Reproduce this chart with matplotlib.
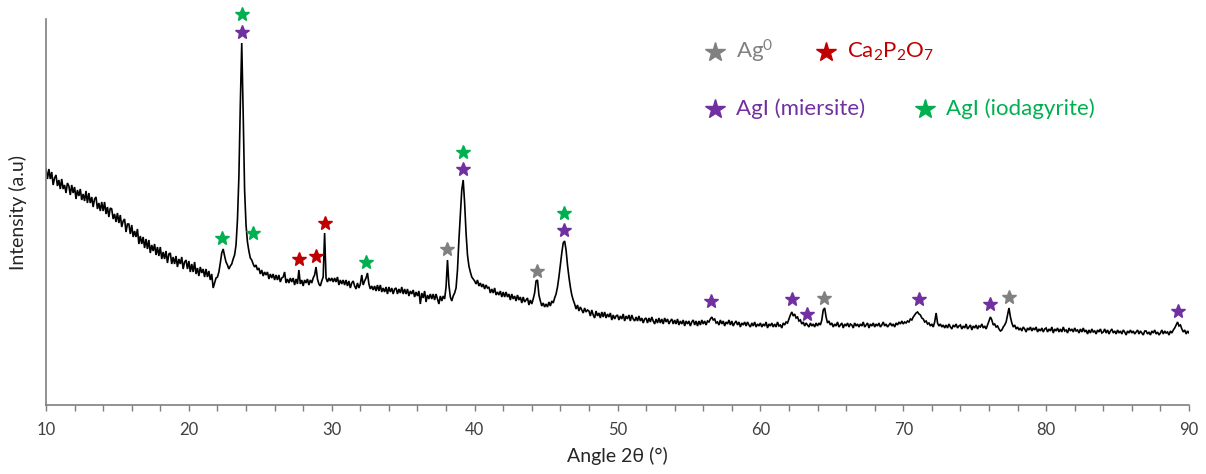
#!/usr/bin/env python3
"""XRD pattern of the AgI / Ag0 / Ca2P2O7 sample with phase markers."""

import matplotlib
matplotlib.use("Agg")
import matplotlib.pyplot as plt
import numpy as np
from matplotlib.ticker import MultipleLocator

plt.rcParams["font.family"] = ["Lato", "DejaVu Sans"]
plt.rcParams["mathtext.default"] = "regular"

# Scan: 10-90 deg, 0.1 deg step; intensity in arbitrary units (one row per degree)
scan_start = 10.0
scan_step = 0.1
intensity = [
    236, 226, 236, 226, 233, 220, 227, 230, 219, 225,  # 10
    216, 226, 216, 220, 212, 222, 219, 210, 220, 212,  # 11
    218, 206, 215, 209, 216, 205, 211, 204, 214, 202,  # 12
    212, 202, 208, 198, 206, 208, 196, 202, 194, 203,  # 13
    194, 203, 191, 198, 188, 197, 196, 186, 191, 183,  # 14
    192, 182, 190, 178, 184, 186, 173, 181, 181, 171,  # 15
    180, 168, 174, 168, 176, 161, 169, 161, 168, 157,  # 16
    166, 156, 165, 152, 160, 154, 161, 150, 158, 149,  # 17
    158, 146, 153, 146, 154, 142, 151, 152, 141, 148,  # 18
    141, 149, 138, 146, 141, 148, 136, 143, 145, 136,  # 19
    144, 133, 141, 133, 143, 131, 137, 129, 138, 132,  # 20
    136, 128, 136, 128, 134, 125, 131, 117, 122, 127,  # 21
    128, 133, 142, 152, 156, 149, 143, 140, 136, 139,  # 22
    141, 146, 150, 160, 185, 228, 300, 362, 292, 215,  # 23
    180, 163, 154, 147, 145, 141, 138, 140, 135, 137,  # 24
    131, 135, 129, 133, 130, 133, 126, 131, 127, 131,  # 25
    125, 130, 125, 130, 123, 127, 128, 133, 122, 126,  # 26
    122, 127, 123, 127, 120, 126, 121, 135, 121, 125,  # 27
    119, 125, 122, 126, 120, 125, 122, 127, 130, 138,  # 28
    126, 121, 119, 124, 128, 172, 127, 123, 127, 124,  # 29
    127, 123, 127, 123, 128, 120, 125, 121, 125, 120,  # 30
    125, 119, 124, 117, 122, 124, 119, 116, 122, 117,  # 31
    121, 130, 120, 124, 127, 132, 121, 116, 119, 115,  # 32
    119, 114, 120, 114, 120, 113, 117, 113, 118, 111,  # 33
    118, 113, 117, 111, 116, 117, 111, 116, 112, 118,  # 34
    111, 116, 111, 116, 109, 114, 111, 115, 108, 113,  # 35
    109, 114, 101, 112, 107, 114, 103, 110, 106, 111,  # 36
    106, 111, 105, 111, 106, 101, 109, 104, 109, 106,  # 37
    118, 145, 120, 108, 104, 109, 112, 117, 135, 165,  # 38
    190, 215, 225, 202, 172, 150, 139, 133, 128, 126,  # 39
    124, 121, 125, 119, 122, 118, 121, 116, 120, 117,  # 40
    118, 112, 116, 112, 117, 110, 113, 110, 114, 108,  # 41
    113, 108, 113, 108, 111, 105, 111, 106, 109, 104,  # 42
    110, 105, 108, 102, 108, 103, 105, 107, 100, 105,  # 43
    101, 106, 112, 124, 125, 110, 104, 99, 102, 98,  # 44
    101, 98, 103, 99, 104, 102, 107, 111, 118, 128,  # 45
    140, 152, 162, 164, 155, 140, 128, 118, 110, 105,  # 46
    101, 96, 100, 94, 98, 95, 92, 97, 93, 95,  # 47
    94, 89, 95, 90, 87, 94, 89, 92, 87, 93,  # 48
    88, 93, 87, 91, 88, 92, 85, 90, 86, 89,  # 49
    90, 85, 89, 86, 91, 84, 89, 86, 90, 84,  # 50
    90, 86, 84, 88, 84, 89, 84, 87, 82, 86,  # 51
    87, 82, 87, 83, 88, 84, 81, 86, 82, 87,  # 52
    82, 86, 81, 87, 83, 86, 81, 84, 86, 81,  # 53
    85, 81, 86, 80, 84, 81, 85, 79, 84, 81,  # 54
    84, 79, 83, 85, 80, 84, 79, 84, 80, 85,  # 55
    81, 84, 80, 84, 83, 86, 88, 85, 86, 82,  # 56
    83, 80, 85, 81, 84, 79, 83, 81, 85, 80,  # 57
    84, 79, 82, 84, 80, 83, 78, 82, 80, 83,  # 58
    79, 83, 80, 78, 82, 79, 83, 78, 81, 79,  # 59
    82, 78, 81, 79, 83, 77, 81, 79, 82, 78,  # 60
    81, 78, 83, 79, 80, 77, 82, 80, 83, 82,  # 61
    86, 90, 93, 89, 91, 87, 88, 84, 85, 81,  # 62
    83, 79, 82, 80, 78, 82, 79, 81, 78, 82,  # 63
    79, 82, 80, 85, 95, 97, 88, 82, 84, 80,  # 64
    82, 78, 81, 79, 83, 78, 80, 82, 77, 81,  # 65
    79, 82, 78, 81, 80, 77, 82, 79, 81, 78,  # 66
    81, 79, 83, 78, 80, 82, 77, 81, 79, 82,  # 67
    78, 81, 79, 82, 78, 80, 83, 79, 81, 78,  # 68
    80, 82, 79, 81, 78, 82, 80, 83, 81, 84,  # 69
    81, 83, 82, 84, 83, 86, 85, 88, 90, 92,  # 70
    93, 91, 90, 87, 86, 83, 84, 81, 82, 79,  # 71
    81, 78, 83, 92, 82, 79, 81, 78, 80, 77,  # 72
    80, 77, 81, 78, 76, 80, 78, 81, 77, 79,  # 73
    80, 76, 79, 77, 81, 76, 78, 80, 75, 79,  # 74
    77, 80, 76, 79, 78, 81, 77, 79, 76, 80,  # 75
    84, 88, 85, 80, 81, 78, 79, 76, 74, 75,  # 76
    78, 80, 83, 90, 97, 88, 82, 78, 80, 76,  # 77
    78, 75, 77, 74, 78, 76, 73, 77, 75, 78,  # 78
    74, 77, 75, 78, 73, 76, 74, 77, 73, 76,  # 79
    77, 73, 76, 74, 78, 72, 76, 74, 77, 73,  # 80
    76, 73, 78, 74, 75, 72, 77, 74, 76, 73,  # 81
    77, 74, 75, 72, 76, 73, 77, 73, 75, 71,  # 82
    75, 72, 76, 73, 74, 71, 75, 73, 76, 72,  # 83
    73, 76, 72, 75, 71, 74, 76, 72, 74, 71,  # 84
    75, 72, 74, 71, 75, 73, 70, 74, 72, 75,  # 85
    72, 74, 71, 73, 75, 71, 74, 72, 70, 74,  # 86
    74, 71, 73, 70, 74, 72, 75, 71, 73, 70,  # 87
    72, 75, 71, 74, 72, 73, 70, 74, 72, 75,  # 88
    77, 80, 83, 79, 80, 76, 73, 75, 71, 74,  # 89
    72,  # 90
]

# Phase assignments: peak angle and marker height
ag_angle = [38.1, 44.35, 64.45, 77.4]
ag_height = [156, 134, 107, 108]
ca_angle = [27.7, 28.9, 29.53]
ca_height = [146, 149, 182]
mier_angle = [23.72, 39.2, 46.27, 56.55, 62.2, 63.25, 71.1, 76.05, 89.22]
mier_height = [373, 236, 175, 104, 106, 91, 106, 101, 94]
iod_angle = [22.3, 23.72, 24.47, 32.37, 39.2, 46.27]
iod_height = [167, 391, 172, 143, 253, 192]

GREY = "#808080"
RED = "#C00000"
PURPLE = "#7030A0"
GREEN = "#00B050"
AXIS = "#7f7f7f"


def main():
    y = np.array(intensity, dtype=float)
    x = scan_start + scan_step * np.arange(len(y))

    fig = plt.figure(figsize=(12.06, 4.74), dpi=100)
    ax = fig.add_axes([46 / 1206, 69 / 474, 1143 / 1206, 386 / 474])

    ax.plot(x, y, color="black", lw=1.2, solid_joinstyle="miter")

    for ang, hgt, col in [
        (ag_angle, ag_height, GREY),
        (ca_angle, ca_height, RED),
        (mier_angle, mier_height, PURPLE),
        (iod_angle, iod_height, GREEN),
    ]:
        ax.plot(ang, hgt, ls="none", marker="*", ms=10, color=col,
                mec=col, clip_on=False, zorder=3)

    # --- Legend drawn by hand (stars + coloured labels) ---
    legend = [
        ("Ag$^{0}$", GREY, 0.5853, 0.9158),
        ("Ca$_2$P$_2$O$_7$", RED, 0.6824, 0.9158),
        ("AgI (miersite)", PURPLE, 0.5853, 0.7668),
        ("AgI (iodagyrite)", GREEN, 0.7690, 0.7668),
    ]
    for label, col, lx, ly in legend:
        ax.plot([lx], [ly], transform=ax.transAxes, ls="none", marker="*",
                ms=15, color=col, clip_on=False)
        ax.text(lx + 0.018, ly, label, transform=ax.transAxes, color=col,
                fontsize=16, ha="left", va="center")

    ax.set_xlim(10, 90)
    ax.set_ylim(0, 386)
    ax.xaxis.set_major_locator(MultipleLocator(10))
    ax.xaxis.set_minor_locator(MultipleLocator(2))
    ax.tick_params(axis="x", which="both", direction="out", length=4.5,
                   width=1, color=AXIS, labelsize=12, labelcolor="#404040",
                   pad=8)
    ax.set_yticks([])

    for side in ("top", "right"):
        ax.spines[side].set_visible(False)
    for side in ("left", "bottom"):
        ax.spines[side].set_color(AXIS)
        ax.spines[side].set_linewidth(1.2)

    ax.set_xlabel("Angle 2θ (°)", fontsize=14, color="#262626", labelpad=6)
    ax.set_ylabel("Intensity (a.u)", fontsize=14, color="#262626",
                  labelpad=14)

    fig.savefig("out.png", dpi=100)


if __name__ == "__main__":
    main()
